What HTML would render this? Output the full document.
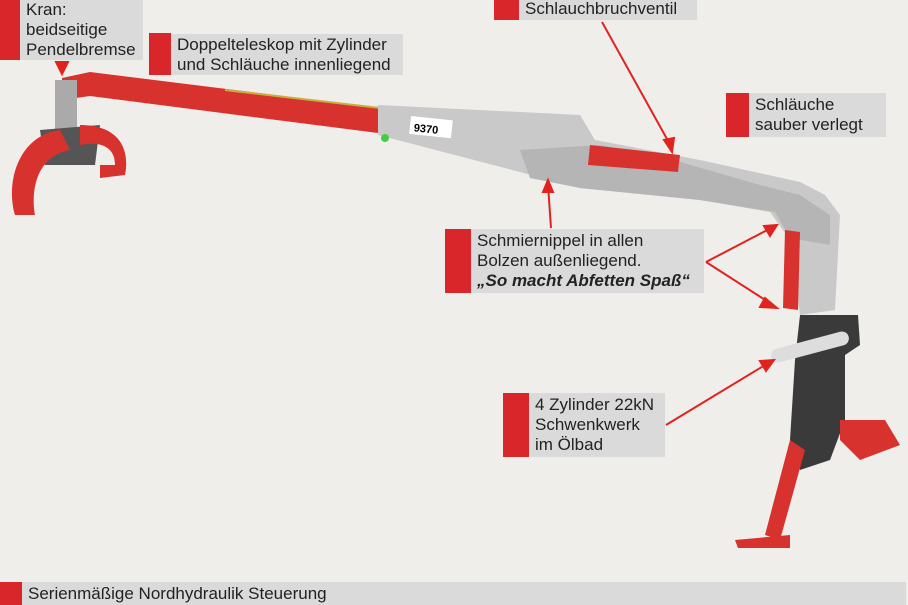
<!DOCTYPE html><html><head><style>
body{margin:0;width:908px;height:605px;background:#efeeeb;position:relative;overflow:hidden;font-family:"Liberation Sans",sans-serif;color:#222;}
.r{position:absolute;background:#d9262b}
.g{position:absolute;background:#dadada;font-size:17px;line-height:20px;padding-left:6px;box-sizing:border-box;white-space:nowrap}
svg{position:absolute;left:0;top:0}
</style></head><body>
<svg width="908" height="605">
<polygon points="62,78 90,72 380,108 378,133 90,96 62,100" fill="#d8322e"/>
<line x1="225" y1="90" x2="380" y2="108" stroke="#c8b040" stroke-width="2"/>
<polygon points="378,105 580,115 595,140 700,160 800,182 825,195 840,215 835,310 800,315 790,240 770,212 700,200 580,188 520,172 378,135" fill="#c9c9c9"/>
<polygon points="520,150 600,145 680,162 760,185 800,195 830,215 830,245 790,238 775,212 700,200 580,188 530,178" fill="#b5b5b5"/>
<rect x="410" y="118" width="42" height="18" fill="#fff" transform="rotate(6 430 127)"/>
<text x="414" y="133" font-size="11" font-weight="bold" font-family="Liberation Sans" transform="rotate(6 430 127)">9370</text>
<polygon points="590,145 680,155 678,172 588,165" fill="#d8322e"/>
<polygon points="785,230 800,232 798,310 783,308" fill="#d8322e"/>
<circle cx="385" cy="138" r="4" fill="#4c4"/>
<polygon points="800,315 858,315 860,345 845,355 845,420 830,460 800,470 790,440 795,360" fill="#3a3a3a"/>
<rect x="770" y="340" width="80" height="14" rx="7" fill="#ddd" transform="rotate(-15 810 347)"/>
<polygon points="790,440 805,450 780,540 765,535" fill="#d8322e"/>
<polygon points="735,540 790,535 790,548 738,548" fill="#d8322e"/>
<polygon points="840,420 885,420 900,445 860,460 840,440" fill="#d8322e"/>
<rect x="55" y="80" width="22" height="60" fill="#aaa"/>
<polygon points="40,130 100,125 95,165 45,165" fill="#555"/>
<path d="M60,130 C20,135 5,180 15,215 L35,215 C30,185 40,155 70,150Z" fill="#d8322e"/>
<path d="M80,125 C120,125 130,150 125,175 L100,178 L100,165 L115,165 C115,150 105,140 80,145Z" fill="#d8322e"/>
<g stroke="#e0231f" stroke-width="2" fill="#e0231f">
<line x1="602" y1="22" x2="672" y2="148"/><polygon points="672,152 664,140 674,138"/>
<line x1="551" y1="228" x2="548" y2="185"/><polygon points="548,180 543,192 553,192"/>
<line x1="706" y1="262" x2="773" y2="227"/><polygon points="777,225 764,226 770,236"/>
<line x1="706" y1="262" x2="773" y2="305"/><polygon points="777,308 765,298 760,307"/>
<line x1="666" y1="425" x2="770" y2="362"/><polygon points="774,360 760,361 766,371"/>
<polygon points="56,62 68,62 62,74"/>
</g>
</svg>
<div class="r" style="left:0;top:0;width:20px;height:60px"></div>
<div class="g" style="left:20px;top:0;width:123px;height:60px">Kran:<br>beidseitige<br>Pendelbremse</div>
<div class="r" style="left:149px;top:33px;width:22px;height:42px"></div>
<div class="g" style="left:171px;top:34px;width:232px;height:41px;padding-top:1px">Doppelteleskop mit Zylinder<br>und Schläuche innenliegend</div>
<div class="r" style="left:494px;top:0;width:25px;height:20px"></div>
<div class="g" style="left:519px;top:0;width:178px;height:20px;line-height:18px">Schlauchbruchventil</div>
<div class="r" style="left:726px;top:93px;width:23px;height:44px"></div>
<div class="g" style="left:749px;top:93px;width:137px;height:44px;padding-top:2px">Schläuche<br>sauber verlegt</div>
<div class="r" style="left:445px;top:229px;width:26px;height:64px"></div>
<div class="g" style="left:471px;top:229px;width:233px;height:64px;padding-top:2px">Schmiernippel in allen<br>Bolzen außenliegend.<br><b><i>„So macht Abfetten Spaß“</i></b></div>
<div class="r" style="left:503px;top:393px;width:26px;height:64px"></div>
<div class="g" style="left:529px;top:393px;width:136px;height:64px;padding-top:2px">4 Zylinder 22kN<br>Schwenkwerk<br>im Ölbad</div>
<div class="r" style="left:0;top:582px;width:22px;height:23px"></div>
<div class="g" style="left:22px;top:582px;width:884px;height:23px;padding-top:2px">Serienmäßige Nordhydraulik Steuerung</div>
</body></html>
